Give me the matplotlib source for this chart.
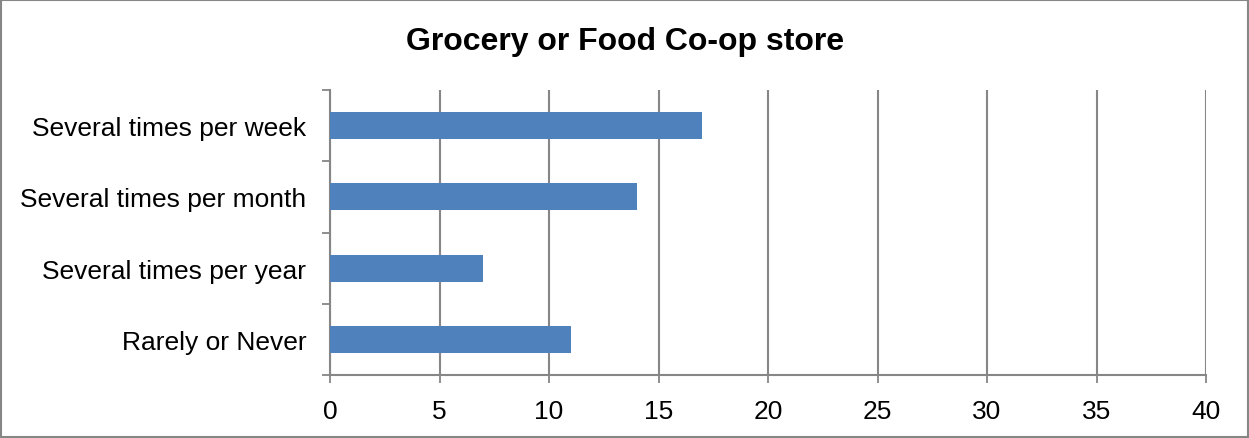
import matplotlib.pyplot as plt
from matplotlib.patches import Rectangle

plt.rcParams['font.family'] = ['Liberation Sans', 'DejaVu Sans']

categories = ["Several times per week", "Several times per month",
              "Several times per year", "Rarely or Never"]
values = [17, 14, 7, 11]
xticks = [0, 5, 10, 15, 20, 25, 30, 35, 40]

W, H = 1249, 439
fig = plt.figure(figsize=(W / 100, H / 100), dpi=100)
ax = fig.add_axes([330 / W, 63 / H, 876 / W, 285 / H])

grey = "#868686"
ypos = list(range(len(categories)))
ax.barh(ypos, values, height=0.38, color="#4F81BD", zorder=3)
ax.set_ylim(len(categories) - 0.5, -0.5)
ax.set_xlim(0, 40)

ax.set_xticks(xticks)
ax.set_xticklabels([str(t) for t in xticks], fontsize=19)
ax.set_yticks(ypos)
ax.set_yticklabels(categories, fontsize=19)
ax.set_yticks([-0.5, 0.5, 1.5, 2.5, 3.5], minor=True)

ax.tick_params(axis='y', which='major', length=0, pad=17)
ax.tick_params(axis='y', which='minor', length=6, width=1.3, color=grey, direction='out')
ax.tick_params(axis='x', length=6, width=1.3, color=grey, direction='out', pad=11)

ax.grid(axis='x', color=grey, linewidth=1.5, zorder=0)
for s in ['top', 'right']:
    ax.spines[s].set_visible(False)
for s in ['left', 'bottom']:
    ax.spines[s].set_color(grey)
    ax.spines[s].set_linewidth(1.5)

fig.text(625 / W, 1 - 42 / H, "Grocery or Food Co-op store", ha='center', va='center',
         fontsize=23, fontweight='bold')

fig.patches.append(Rectangle((1 / W, 1 / H), 1 - 2 / W, 1 - 2 / H, transform=fig.transFigure,
                             fill=False, edgecolor=grey, linewidth=1.5))

fig.savefig("out.png", dpi=100)
